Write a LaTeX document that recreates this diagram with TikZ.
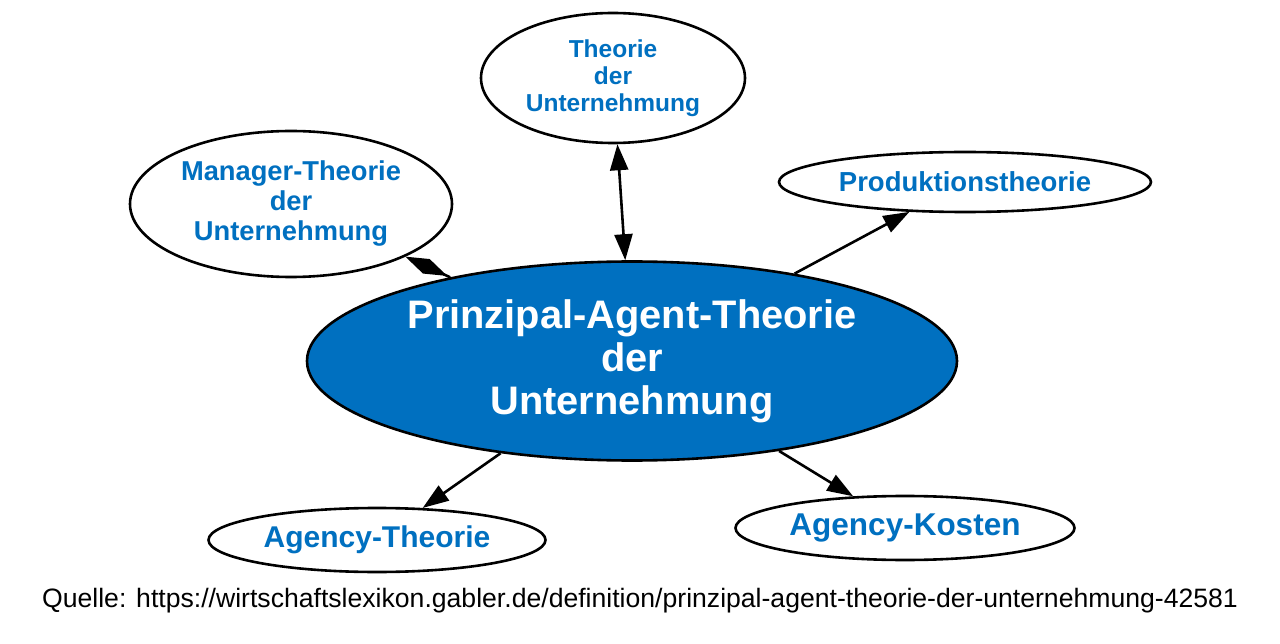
\documentclass[tikz,border=0pt]{standalone}
\usepackage{fontspec}
\setmainfont{Liberation Sans}
\usetikzlibrary{shapes.geometric,arrows.meta}
\definecolor{gablerblue}{RGB}{0,112,192}
\begin{document}
\begin{tikzpicture}[x=1pt, y=-1pt,
	bubble/.style={ellipse, draw, line width=2.6pt, fill=white, inner sep=0pt,
		align=center, text=gablerblue, font=\bfseries},
	link/.style={line width=2.6pt, -{Triangle[length=26pt,width=18pt]}}]
		\useasboundingbox (0,0) rectangle (1280,644);
		\node[bubble, fill=gablerblue, text=white, minimum width=650pt, minimum height=199pt,
			font=\bfseries\fontsize{39.8}{43}\selectfont] (pat) at (632,361)
			{Prinzipal-Agent-Theorie\\der\\Unternehmung};
		\node[bubble, minimum width=264pt, minimum height=130pt,
			font=\bfseries\fontsize{24.5}{27}\selectfont] (tdu) at (613,78)
			{Theorie\\der\\Unternehmung};
		\node[bubble, minimum width=322pt, minimum height=146pt,
			font=\bfseries\fontsize{27.3}{30}\selectfont] (mgr) at (291,204)
			{Manager-Theorie\\der\\Unternehmung};
		\node[bubble, minimum width=372pt, minimum height=60pt,
			font=\bfseries\fontsize{27.5}{30}\selectfont] (prod) at (965,182)
			{Produktionstheorie};
		\node[bubble, minimum width=337pt, minimum height=64pt,
			font=\bfseries\fontsize{30}{33}\selectfont] (agt) at (377,540)
			{Agency-Theorie};
		\node[bubble, minimum width=339pt, minimum height=64pt,
			font=\bfseries\fontsize{31.5}{34}\selectfont] (agk) at (905,528)
			{Agency-Kosten};
		\draw[link, {Triangle[length=26pt,width=18pt]}-{Triangle[length=26pt,width=18pt]}] (tdu) -- (pat);
		\draw[line width=2.6pt, -{Diamond[length=46pt,width=16pt]}] (pat) -- (mgr);
		\draw[link] (pat) -- (prod);
		\draw[link] (pat) -- (agt);
		\draw[link] (pat) -- (agk);
		\node[font=\fontsize{26.6}{29}\selectfont] (src) at (640,601)
			{Quelle: https://wirtschaftslexikon.gabler.de/definition/prinzipal-agent-theorie-der-unternehmung-42581};
		\end{tikzpicture}
\end{document}
